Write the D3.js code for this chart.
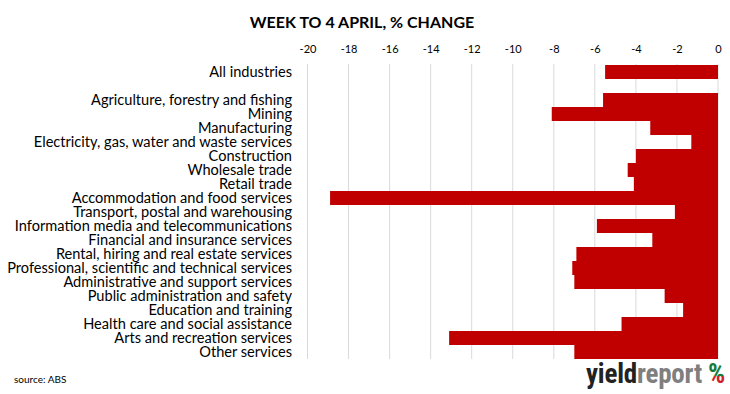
<!DOCTYPE html>
<html>
<head>
<meta charset="utf-8">
<script src="https://cdn.jsdelivr.net/npm/d3@7"></script>
<style>
  body { margin: 0; background: #fff; }
  svg { display: block; }
  .tick text { font-family: Lato, "Open Sans", sans-serif; }
</style>
</head>
<body>
<div id="chart"></div>
<script>
const width = 730;
const height = 394;

// categories, top to bottom ("" is the empty gap row)
const industries = [
	"All industries",
	"",
	"Agriculture, forestry and fishing",
	"Mining",
	"Manufacturing",
	"Electricity, gas, water and waste services",
	"Construction",
	"Wholesale trade",
	"Retail trade",
	"Accommodation and food services",
	"Transport, postal and warehousing",
	"Information media and telecommunications",
	"Financial and insurance services",
	"Rental, hiring and real estate services",
	"Professional, scientific and technical services",
	"Administrative and support services",
	"Public administration and safety",
	"Education and training",
	"Health care and social assistance",
	"Arts and recreation services",
	"Other services"
]

// % change in week to 4 April
const changes = [
	-5.5, null,
	-5.6, -8.1, -3.3, -1.3, -4.0, -4.4, -4.1, -18.9, -2.1,
	-5.9, -3.2, -6.9, -7.1, -7.0, -2.6, -1.7, -4.7, -13.1, -7.0
]

const tickValues = [-20, -18, -16, -14, -12, -10, -8, -6, -4, -2, 0]

const rows = industries.map((name, i) => ({ name: name, value: changes[i], idx: i }))

const svg = d3.select("#chart")
	.append("svg")
	.attr("width", width)
	.attr("height", height)

const x = d3.scaleLinear()
	.domain([-20, 0])
	.range([307.5, 718])

const y = d3.scaleBand()
	.domain(d3.range(industries.length))
	.range([65, 359])
	.padding(0)

//title
svg.append("text")
	.attr("x", 362)
	.attr("y", 28)
	.attr("text-anchor", "middle")
	.style("font-family", "Lato, 'Open Sans', sans-serif")
	.style("font-weight", "bold")
	.style("font-size", "16px")
	.style("fill", "#000")
	.text("WEEK TO 4 APRIL, % CHANGE")

//gridlines
svg.append("g")
	.selectAll("line")
	.data(tickValues)
	.join("line")
	.attr("x1", d => x(d))
	.attr("x2", d => x(d))
	.attr("y1", 64)
	.attr("y2", 359)
	.style("stroke", "#d9d9d9")
	.style("stroke-width", 1)

//top axis labels (plain hyphen like the original)
const xAxis = svg.append("g")
	.attr("transform", "translate(0,53)")
	.call(d3.axisTop(x).tickValues(tickValues).tickFormat(d => String(d)).tickSize(0).tickPadding(0))
xAxis.select(".domain").remove()
xAxis.selectAll("text")
	.style("font-size", "11px")
	.style("fill", "#000")

//bars
svg.append("g")
	.selectAll("rect")
	.data(rows.filter(d => d.value !== null))
	.join("rect")
	.attr("x", d => x(d.value))
	.attr("y", d => y(d.idx))
	.attr("width", d => x(0) - x(d.value))
	.attr("height", y.bandwidth())
	.style("fill", "#c00000")

//category labels
svg.append("g")
	.selectAll("text")
	.data(rows)
	.join("text")
	.attr("x", 292)
	.attr("y", d => y(d.idx) + y.bandwidth() / 2)
	.attr("dy", "0.36em")
	.attr("text-anchor", "end")
	.style("font-family", "Lato, 'Open Sans', sans-serif")
	.style("font-size", "14.6px")
	.style("fill", "#000")
	.text(d => d.name)

//source
svg.append("text")
	.attr("x", 14)
	.attr("y", 383)
	.style("font-family", "Lato, 'Open Sans', sans-serif")
	.style("font-size", "10px")
	.style("fill", "#000")
	.text("source: ABS")

//logo
const grad = svg.append("defs")
	.append("linearGradient")
	.attr("id", "pct")
	.attr("x1", 0).attr("y1", 0)
	.attr("x2", 0).attr("y2", 1)
grad.append("stop").attr("offset", "0.55").attr("stop-color", "#1a7a3a")
grad.append("stop").attr("offset", "0.55").attr("stop-color", "#d0202a")

const logo = svg.append("text")
	.attr("x", 586)
	.attr("y", 383)
	.style("font-family", "'Liberation Sans Narrow', 'Roboto Condensed', sans-serif")
	.style("font-weight", "bold")
	.style("font-size", "27px")
	.style("letter-spacing", "-0.2px")
logo.append("tspan").style("fill", "#222").text("yield")
logo.append("tspan").style("fill", "#7f7f7f").text("report")
logo.append("tspan").attr("dx", 6).style("fill", "url(#pct)").text("%")
</script>
</body>
</html>
